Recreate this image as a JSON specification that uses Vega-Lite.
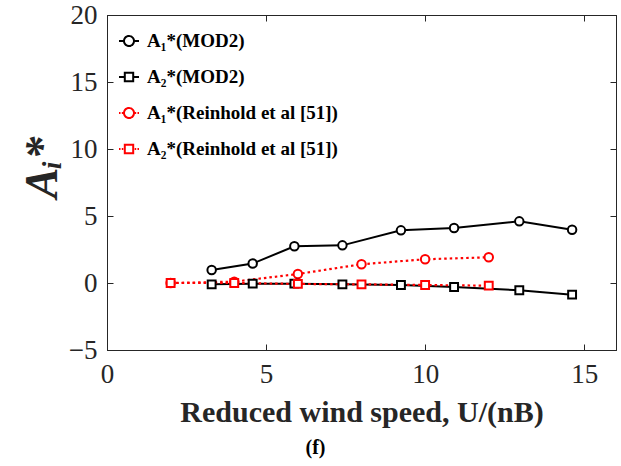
{
  "$schema": "https://vega.github.io/schema/vega-lite/v6.json",
  "width": 509,
  "height": 335,
  "autosize": {"type": "none"},
  "padding": {"left": 107, "top": 15, "right": 5, "bottom": 116},
  "background": "white",
  "title": {"text": "(f)", "orient": "bottom", "anchor": "middle", "dx": -46, "offset": 11, "font": "Liberation Serif", "fontSize": 20, "fontWeight": "bold", "color": "black"},
  "config": {
    "view": {"stroke": "#262626", "strokeWidth": 1},
    "axis": {
      "grid": false,
      "domainColor": "#262626",
      "tickColor": "#262626",
      "labelFont": "Liberation Serif",
      "labelFontSize": 27,
      "labelColor": "#262626",
      "labelFlush": false,
      "titleFont": "Liberation Serif",
      "titleColor": "#262626"
    },
    "legend": {
      "orient": "none", "legendX": 11, "legendY": 15, "title": null,
      "labelFont": "Liberation Serif", "labelFontSize": 19, "labelFontWeight": "bold", "labelColor": "black",
      "symbolSize": 400, "symbolStrokeWidth": 2, "rowPadding": 15, "labelOffset": 7, "labelLimit": 400
    }
  },
  "data": {
    "values": [
      {"series": "A₁*(MOD2)", "x": 3.29, "y": 0.97},
      {"series": "A₁*(MOD2)", "x": 4.58, "y": 1.45},
      {"series": "A₁*(MOD2)", "x": 5.89, "y": 2.74},
      {"series": "A₁*(MOD2)", "x": 7.4, "y": 2.81},
      {"series": "A₁*(MOD2)", "x": 9.24, "y": 3.93},
      {"series": "A₁*(MOD2)", "x": 10.91, "y": 4.1},
      {"series": "A₁*(MOD2)", "x": 12.96, "y": 4.6},
      {"series": "A₁*(MOD2)", "x": 14.62, "y": 3.98},
      {"series": "A₂*(MOD2)", "x": 3.29, "y": -0.1},
      {"series": "A₂*(MOD2)", "x": 4.58, "y": -0.05},
      {"series": "A₂*(MOD2)", "x": 5.89, "y": -0.05},
      {"series": "A₂*(MOD2)", "x": 7.4, "y": -0.1},
      {"series": "A₂*(MOD2)", "x": 9.24, "y": -0.15},
      {"series": "A₂*(MOD2)", "x": 10.91, "y": -0.3},
      {"series": "A₂*(MOD2)", "x": 12.96, "y": -0.54},
      {"series": "A₂*(MOD2)", "x": 14.62, "y": -0.87},
      {"series": "A₁*(Reinhold et al [51])", "x": 2, "y": 0},
      {"series": "A₁*(Reinhold et al [51])", "x": 4, "y": 0.1},
      {"series": "A₁*(Reinhold et al [51])", "x": 6, "y": 0.67},
      {"series": "A₁*(Reinhold et al [51])", "x": 8, "y": 1.4},
      {"series": "A₁*(Reinhold et al [51])", "x": 10, "y": 1.77},
      {"series": "A₁*(Reinhold et al [51])", "x": 12, "y": 1.92},
      {"series": "A₂*(Reinhold et al [51])", "x": 2, "y": 0},
      {"series": "A₂*(Reinhold et al [51])", "x": 4, "y": 0},
      {"series": "A₂*(Reinhold et al [51])", "x": 6, "y": -0.07},
      {"series": "A₂*(Reinhold et al [51])", "x": 8, "y": -0.1},
      {"series": "A₂*(Reinhold et al [51])", "x": 10, "y": -0.15},
      {"series": "A₂*(Reinhold et al [51])", "x": 12, "y": -0.2}
    ]
  },
  "resolve": {"axis": {"x": "independent", "y": "independent"}},
  "layer": [
    {
      "transform": [{"filter": {"field": "series", "oneOf": ["A₁*(MOD2)", "A₂*(MOD2)"]}}],
      "mark": {"type": "line", "strokeWidth": 2},
      "encoding": {
        "x": {"field": "x", "type": "quantitative", "scale": {"domain": [0, 16], "nice": false, "zero": false},
          "axis": {"values": [0, 5, 10, 15], "tickSize": -6, "labelPadding": 17, "title": "Reduced wind speed, U/(nB)", "titleFontSize": 30, "titleFontWeight": "bold", "titlePadding": 10}},
        "y": {"field": "y", "type": "quantitative", "scale": {"domain": [-5, 20], "nice": false, "zero": false},
          "axis": {"values": [-5, 0, 5, 10, 15, 20], "tickSize": -6, "labelPadding": 16, "title": "Aᵢ*", "titleFontSize": 46, "titleFontWeight": "bold", "titleFontStyle": "italic", "titlePadding": 2, "titleAngle": -90, "titleY": 152}},
        "color": {"field": "series", "type": "nominal",
          "scale": {"domain": ["A₁*(MOD2)", "A₂*(MOD2)", "A₁*(Reinhold et al [51])", "A₂*(Reinhold et al [51])"], "range": ["black", "black", "#ff0000", "#ff0000"]},
          "legend": {
            "encode": {
              "symbols": {
                "update": {
                  "shape": {"signal": "datum.value == 'A₁*(MOD2)' ? 'M-1,0H-0.5M0.5,0H1M0.5,0A0.5,0.5,0,1,1,-0.5,0A0.5,0.5,0,1,1,0.5,0Z' : datum.value == 'A₂*(MOD2)' ? 'M-1,0H-0.42M0.42,0H1M-0.42,-0.42H0.42V0.42H-0.42Z' : datum.value == 'A₁*(Reinhold et al [51])' ? 'M-1,0H-0.85M-0.72,0H-0.57M0.57,0H0.72M0.85,0H1M0.5,0A0.5,0.5,0,1,1,-0.5,0A0.5,0.5,0,1,1,0.5,0Z' : 'M-1,0H-0.85M-0.72,0H-0.57M0.57,0H0.72M0.85,0H1M-0.42,-0.42H0.42V0.42H-0.42Z'"},
                  "size": {"value": 400},
                  "strokeDash": {"value": [1, 0]},
                  "fill": {"value": "transparent"},
                  "strokeWidth": {"value": 2},
                  "opacity": {"value": 1}
                }
              }
            }
          }}
      }
    },
    {
      "transform": [{"filter": {"field": "series", "oneOf": ["A₁*(Reinhold et al [51])", "A₂*(Reinhold et al [51])"]}}],
      "mark": {"type": "line", "strokeWidth": 2.2, "strokeDash": [2.5, 3]},
      "encoding": {
        "x": {"field": "x", "type": "quantitative", "axis": null},
        "y": {"field": "y", "type": "quantitative", "axis": null},
        "color": {"field": "series", "type": "nominal"}
      }
    },
    {
      "transform": [{"filter": {"field": "series", "oneOf": ["A₁*(MOD2)", "A₁*(Reinhold et al [51])"]}}],
      "mark": {"type": "point", "shape": "circle", "size": 72, "filled": false, "strokeWidth": 2, "opacity": 1, "fill": "white", "fillOpacity": 1},
      "encoding": {
        "x": {"field": "x", "type": "quantitative", "axis": {"orient": "top", "values": [0, 5, 10, 15], "tickSize": -6, "labels": false, "title": null}},
        "y": {"field": "y", "type": "quantitative", "axis": {"orient": "right", "values": [-5, 0, 5, 10, 15, 20], "tickSize": -6, "labels": false, "title": null}},
        "color": {"field": "series", "type": "nominal"}
      }
    },
    {
      "transform": [{"filter": {"field": "series", "oneOf": ["A₂*(MOD2)", "A₂*(Reinhold et al [51])"]}}],
      "mark": {"type": "point", "shape": "square", "size": 62, "filled": false, "strokeWidth": 2, "opacity": 1, "fill": "white", "fillOpacity": 1},
      "encoding": {
        "x": {"field": "x", "type": "quantitative", "axis": null},
        "y": {"field": "y", "type": "quantitative", "axis": null},
        "color": {"field": "series", "type": "nominal"}
      }
    }
  ]
}
